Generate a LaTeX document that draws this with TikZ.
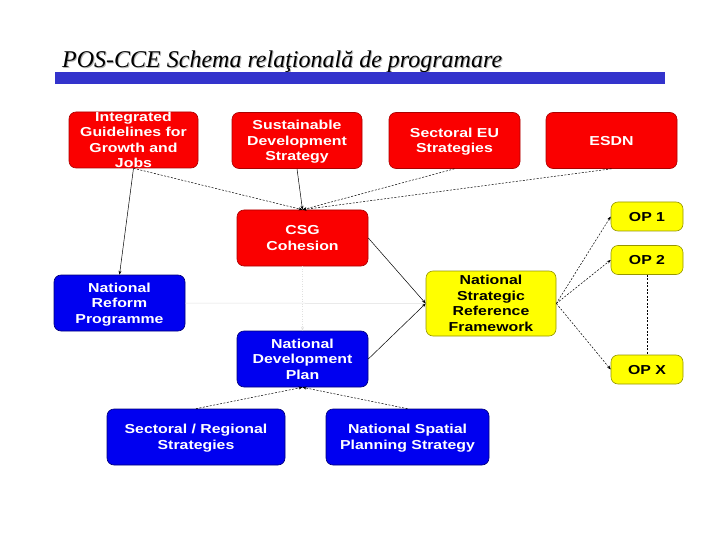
\documentclass[tikz,border=0pt]{standalone}
\usepackage{fontspec}
\setmainfont{Liberation Serif}
\newfontfamily\boxfont[FakeStretch=1.22]{Liberation Sans}
\usetikzlibrary{arrows.meta}
\definecolor{bred}{RGB}{250,0,0}
\definecolor{bredline}{RGB}{170,0,0}
\definecolor{bblue}{RGB}{0,0,240}
\definecolor{bblueline}{RGB}{0,0,120}
\definecolor{byellow}{RGB}{255,255,0}
\definecolor{byellowline}{RGB}{150,150,0}
\definecolor{barblue}{RGB}{51,51,204}
\tikzset{
  boxbase/.style={draw, line width=0.6pt, rounded corners=7pt, align=center, inner sep=0pt,
    text depth=0pt, font=\boxfont\bfseries\fontsize{13}{15.5}\selectfont},
  redbox/.style={boxbase, fill=bred, draw=bredline, text=white},
  bluebox/.style={boxbase, fill=bblue, draw=bblueline, text=white},
  yellowbox/.style={boxbase, fill=byellow, draw=byellowline, text=black},
  conn/.style={line width=0.5pt, black},
  dashconn/.style={conn, dash pattern=on 2pt off 1.5pt},
  tip/.style={-{Stealth[length=4pt,width=3pt]}},
  faint/.style={line width=0.5pt, black!12},
}
\begin{document}
\begin{tikzpicture}[x=1pt,y=-1pt]
\useasboundingbox (0,0) rectangle (720,540);
\fill[white] (0,0) rectangle (720,540);
% title
\node[anchor=base west, inner sep=0pt, text=black!30, font=\itshape\fontsize{24}{26}\selectfont] (titleshadow) at (63,69) {POS-CCE Schema relaţională de programare};
\node[anchor=base west, inner sep=0pt, font=\itshape\fontsize{24}{26}\selectfont] (title) at (62,68) {POS-CCE Schema relaţională de programare};
\fill[barblue] (55,72) rectangle (665,84);
% top row
\node[redbox, minimum width=129pt, minimum height=56pt] (ig) at (133.5,140) {Integrated\\Guidelines for\\Growth and\\Jobs};
\node[redbox, minimum width=130pt, minimum height=56pt] (sds) at (297,140.5) {Sustainable\\Development\\Strategy};
\node[redbox, minimum width=131pt, minimum height=56pt] (seu) at (454.5,140.5) {Sectoral EU\\Strategies};
\node[redbox, minimum width=131pt, minimum height=56pt] (esdn) at (611.5,140.5) {ESDN};
% middle
\node[redbox, minimum width=131pt, minimum height=56pt] (csg) at (302.5,238) {CSG\\Cohesion};
\node[bluebox, minimum width=131pt, minimum height=56pt] (nrp) at (119.5,303) {National\\Reform\\Programme};
\node[yellowbox, minimum width=130pt, minimum height=65pt] (nsrf) at (491,303.5) {National\\Strategic\\Reference\\Framework};
\node[bluebox, minimum width=131pt, minimum height=56pt] (ndp) at (302.5,359) {National\\Development\\Plan};
\node[yellowbox, minimum width=72pt, minimum height=29pt] (op1) at (647,216.5) {OP 1};
\node[yellowbox, minimum width=72pt, minimum height=29pt] (op2) at (647,260) {OP 2};
\node[yellowbox, minimum width=72pt, minimum height=29pt] (opx) at (647,369.5) {OP X};
% bottom
\node[bluebox, minimum width=178pt, minimum height=56pt] (srs) at (196,437) {Sectoral / Regional\\Strategies};
\node[bluebox, minimum width=163pt, minimum height=56pt] (nsps) at (407.5,437) {National Spatial\\Planning Strategy};
% faint connectors
\draw[faint] (nrp.east) -- (nsrf.west);
\draw[faint, dash pattern=on 1pt off 1.5pt, tip] (csg.south) -- (ndp.north);
% connectors
\draw[dashconn, tip] (ig.south) -- (csg.north);
\draw[conn, tip] (ig.south) -- (nrp.north);
\draw[conn, tip] (sds.south) -- (csg.north);
\draw[dashconn, tip] (seu.south) -- (csg.north);
\draw[dashconn, tip] (esdn.south) -- (csg.north);
\draw[conn, tip] (csg.east) -- (nsrf.west);
\draw[conn, tip] (ndp.east) -- (nsrf.west);
\draw[dashconn, tip] (nsrf.east) -- (op1.west);
\draw[dashconn, tip] (nsrf.east) -- (op2.west);
\draw[dashconn, tip] (nsrf.east) -- (opx.west);
\draw[dashconn] (op2.south) -- (opx.north);
\draw[dashconn, tip] (srs.north) -- (ndp.south);
\draw[dashconn, tip] (nsps.north) -- (ndp.south);
\end{tikzpicture}
\end{document}
